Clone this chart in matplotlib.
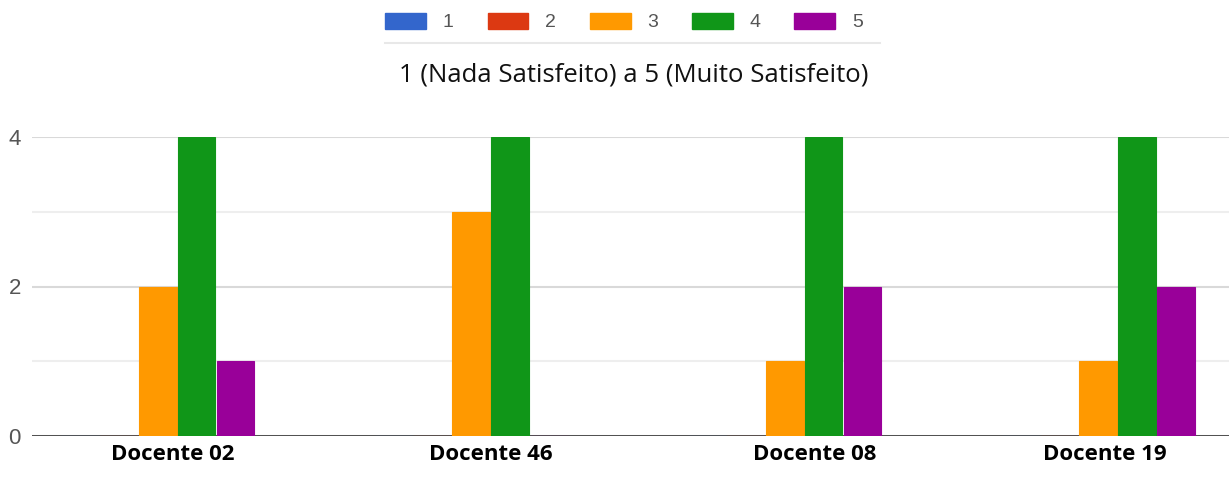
"""Grouped bar chart: satisfacao por docente (1 a 5)."""

import matplotlib.pyplot as plt
import matplotlib.transforms as mtransforms
import numpy as np
from matplotlib.patches import Patch

docentes = ["Docente 02", "Docente 46", "Docente 08", "Docente 19"]
levels = ["1", "2", "3", "4", "5"]
counts_1 = [0, 0, 0, 0]
counts_2 = [0, 0, 0, 0]
counts_3 = [2, 3, 1, 1]
counts_4 = [4, 4, 4, 4]
counts_5 = [1, 0, 2, 2]
colors = ["#3366cc", "#dc3912", "#ff9900", "#109618", "#990099"]
title = "1 (Nada Satisfeito) a 5 (Muito Satisfeito)"
# the category labels sit a little right of the bar groups in the source
label_shift_px = [15, 20, 30, 7]


def main() -> None:
    series = [counts_1, counts_2, counts_3, counts_4, counts_5]
    fig = plt.figure(figsize=(12.29, 4.93), dpi=100)
    ax = fig.add_axes([32 / 1229, 57 / 493, 1 - 32 / 1229, 299 / 493])

    x = np.arange(len(docentes))
    width = 0.124
    for i, (vals, color) in enumerate(zip(series, colors)):
        ax.bar(x + (i - 2) * width, vals, width * 0.97, color=color,
               edgecolor=color, linewidth=0.8, zorder=3)

    ax.set_xlim(-0.401, 3.417)
    ax.set_ylim(0, 4)
    ax.set_yticks([0, 2, 4])
    ax.set_yticks([1, 3], minor=True)
    ax.grid(axis="y", which="major", color="#d9d9d9", linewidth=1.5, zorder=0)
    ax.grid(axis="y", which="minor", color="#eeeeee", linewidth=1.5, zorder=0)
    ax.axhline(0, color="#444444", linewidth=1.3, zorder=2)
    for side in ["top", "right", "left", "bottom"]:
        ax.spines[side].set_visible(False)
    ax.tick_params(axis="y", which="both", length=0, pad=8,
                   labelsize=16, labelcolor="#555555")
    ax.tick_params(axis="x", length=0, pad=6)
    ax.set_xticks(x)
    ax.set_xticklabels(docentes, fontsize=16, fontweight="bold",
                       family="Open Sans")
    for lbl, dx in zip(ax.get_xticklabels(), label_shift_px):
        lbl.set_transform(lbl.get_transform()
                          + mtransforms.ScaledTranslation(dx / 100, 0, fig.dpi_scale_trans))
    for lbl in ax.get_yticklabels():
        lbl.set_family("Liberation Sans")

    handles = [Patch(facecolor=c, edgecolor=c) for c in colors]
    fig.legend(handles, levels, loc="center", bbox_to_anchor=(624 / 1229, 1 - 22 / 493),
               ncol=5, frameon=False, handlelength=2.1, handleheight=0.9,
               handletextpad=0.85, columnspacing=1.75,
               prop={"family": "Liberation Sans", "size": 14})
    for txt in fig.legends[0].get_texts():
        txt.set_color("#555555")
    fig.add_artist(plt.Line2D([385 / 1229, 880 / 1229], [1 - 43 / 493] * 2,
                              color="#e8e8e8", linewidth=1.5))
    fig.text(634 / 1229, 1 - 75 / 493, title, ha="center", va="center",
             fontsize=18.5, family="Open Sans", color="#111111")

    fig.savefig("out.png", dpi=100)
    plt.close(fig)


if __name__ == "__main__":
    main()
